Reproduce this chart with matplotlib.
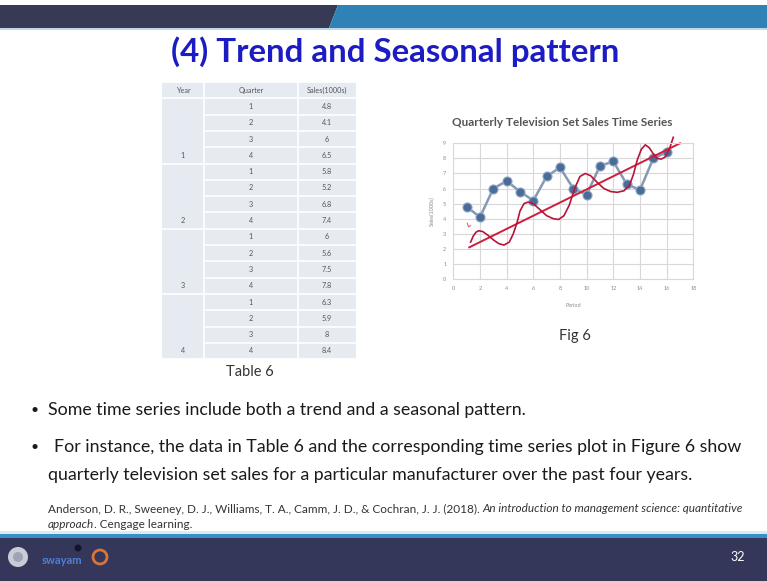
# Trend and seasonal pattern slide: table + time series chart
import matplotlib
matplotlib.use('Agg')
from matplotlib import pyplot as plt
from matplotlib.patches import Rectangle, Polygon, Circle

# data
year_labels = ['1', '2', '3', '4']
quarters = [1, 2, 3, 4, 1, 2, 3, 4, 1, 2, 3, 4, 1, 2, 3, 4]
periods = [1, 2, 3, 4, 5, 6, 7, 8, 9, 10, 11, 12, 13, 14, 15, 16]
sales = [4.8, 4.1, 6, 6.5, 5.8, 5.2, 6.8, 7.4, 6, 5.6, 7.5, 7.8, 6.3, 5.9, 8, 8.4]

# red hand drawn marks on the chart
trend_x = [1.2, 17.0]
trend_y = [2.1, 9.0]
wave_x = [1.3, 1.5, 1.7, 1.9, 2.2, 2.6, 3.0, 3.4, 3.8, 4.2, 4.5, 4.8, 5.0, 5.3,
          5.6, 6.0, 6.5, 7.0, 7.5, 7.9, 8.3, 8.7, 9.1, 9.5, 9.9, 10.3, 10.8,
          11.3, 11.8, 12.3, 12.8, 13.2, 13.5, 13.8, 14.1, 14.4, 14.7, 15.0,
          15.3, 15.6, 15.9, 16.2, 16.5]
wave_y = [2.45, 2.85, 3.1, 3.2, 3.15, 2.9, 2.6, 2.35, 2.25, 2.45, 3.0, 3.8, 4.5, 5.0,
          5.1, 5.0, 4.6, 4.2, 4.0, 3.95, 4.2, 4.9, 6.0, 6.8, 7.0, 6.85, 6.4,
          6.0, 5.8, 5.75, 5.85, 6.2, 6.9, 7.9, 8.6, 8.9, 8.7, 8.3,
          8.0, 7.95, 8.1, 8.6, 9.4]
hook_x = [1.05, 1.15, 1.3]
hook_y = [3.7, 3.45, 3.55]

x_ticks = [0, 2, 4, 6, 8, 10, 12, 14, 16, 18]
y_ticks = [0, 1, 2, 3, 4, 5, 6, 7, 8, 9]

font = ['Lato', 'DejaVu Sans']
plt.rcParams['font.family'] = font

W, H = 767, 581
fig = plt.figure(figsize=(W / 100, H / 100), dpi=100)
fig.patch.set_facecolor('white')
renderer = fig.canvas.get_renderer()


def fit(t, target):
    # scale a text so it covers the same width as in the slide
    w = t.get_window_extent(renderer).width
    t.set_fontsize(t.get_fontsize() * target / w)


bg = fig.add_axes([0, 0, 1, 1])
bg.set_xlim(0, W)
bg.set_ylim(H, 0)
bg.axis('off')

# top bar
bg.add_patch(Polygon([[0, 5], [338, 5], [329, 28], [0, 28]], closed=True, color='#363a55', lw=0))
bg.add_patch(Polygon([[338, 5], [W, 5], [W, 28], [329, 28]], closed=True, color='#2f82b6', lw=0))
bg.add_patch(Rectangle((0, 28), W, 2, color='#bcd9ea', lw=0))

t = bg.text(395, 52, '(4) Trend and Seasonal pattern', ha='center', va='center',
            fontsize=24, fontweight='bold', color='#1c1cc4')
fit(t, 450)

# table
tx0, tx1, tx2, tx3 = 162, 204, 298, 356
ty0 = 82
row_h = 16.3
n = len(sales)
tb = ty0 + row_h * (n + 1)
bg.add_patch(Rectangle((tx0, ty0), tx3 - tx0, tb - ty0, color='#e6eaf1', lw=0))
for i in range(n + 2):
    y = ty0 + row_h * i
    if i in (0, 1, n + 1) or (i - 1) % 4 == 0:
        bg.plot([tx0, tx3], [y, y], color='white', lw=1.2)
    else:
        bg.plot([tx1, tx3], [y, y], color='white', lw=1.2)
for x in (tx1, tx2):
    bg.plot([x, x], [ty0, tb], color='white', lw=1.2)

tfs = 5.2
tcol = '#555555'
bg.text((tx0 + tx1) / 2, ty0 + row_h / 2, 'Year', ha='center', va='center', fontsize=tfs, color=tcol)
bg.text((tx1 + tx2) / 2, ty0 + row_h / 2, 'Quarter', ha='center', va='center', fontsize=tfs, color=tcol)
bg.text((tx2 + tx3) / 2, ty0 + row_h / 2, 'Sales(1000s)', ha='center', va='center', fontsize=tfs, color=tcol)
for i in range(n):
    yc = ty0 + row_h * (i + 1.5)
    bg.text((tx1 + tx2) / 2, yc, str(quarters[i]), ha='center', va='center', fontsize=tfs, color=tcol)
    bg.text((tx2 + tx3) / 2, yc, '%g' % sales[i], ha='center', va='center', fontsize=tfs, color=tcol)
for j, lab in enumerate(year_labels):
    yc = ty0 + row_h * (4 * j + 4.5)
    bg.text((tx0 + tx1) / 2, yc, lab, ha='center', va='center', fontsize=tfs, color=tcol)

bg.text(250, 372, 'Table 6', ha='center', va='center', fontsize=10.5, color='#333333')

# chart
ax = fig.add_axes([453.3 / W, 1 - 279 / H, 240 / W, 135.7 / H])
ax.set_xlim(0, 18)
ax.set_ylim(0, 9)
ax.set_xticks(x_ticks)
ax.set_yticks(y_ticks)
ax.grid(True, color='#d8d8d8', lw=0.8)
ax.set_axisbelow(True)
for s in ax.spines.values():
    s.set_color('#d8d8d8')
    s.set_linewidth(0.8)
ax.tick_params(length=0, labelsize=4, labelcolor='#8a8a8a', pad=5)
ax.set_xlabel('Period', fontsize=4, color='#8a8a8a', labelpad=9)
ax.set_ylabel('Sales(1000s)', fontsize=4, color='#8a8a8a', labelpad=6)
ct = bg.text(562, 123, 'Quarterly Television Set Sales Time Series', ha='center', va='center',
             fontsize=9, color='#555555', fontweight='bold')
fit(ct, 220)

ax.plot(periods, sales, color='#8599b4', lw=1.8, marker='o', markersize=6.5,
        markerfacecolor='#4c6c98', markeredgecolor='#8fa6c4', markeredgewidth=0.8)
ax.plot(trend_x, trend_y, color='#cf1d3c', lw=1.4, clip_on=False)
ax.plot(wave_x, wave_y, color='#b8143a', lw=1.2, clip_on=False)
ax.plot(hook_x, hook_y, color='#d46a7a', lw=0.8)

bg.text(575, 336, 'Fig 6', ha='center', va='center', fontsize=10.5, color='#333333')

# bullet text
bcol = '#1a1a1a'
b1 = bg.text(48, 410, 'Some time series include both a trend and a seasonal pattern.',
             ha='left', va='center', fontsize=13, color=bcol)
b2 = bg.text(54, 447, 'For instance, the data in Table 6 and the corresponding time series plot in Figure 6 show',
             ha='left', va='center', fontsize=13, color=bcol)
b3 = bg.text(48, 475, 'quarterly television set sales for a particular manufacturer over the past four years.',
             ha='left', va='center', fontsize=13, color=bcol)
fit(b2, 686)
b1.set_fontsize(b2.get_fontsize())
b3.set_fontsize(b2.get_fontsize())
bg.text(30, 410, '\u2022', ha='left', va='center', fontsize=10, color=bcol)
bg.text(30, 447, '\u2022', ha='left', va='center', fontsize=10, color=bcol)

# citation: plain part then italic part on the same line
c1 = bg.text(48, 509, 'Anderson, D. R., Sweeney, D. J., Williams, T. A., Camm, J. D., & Cochran, J. J. (2018). ',
             ha='left', va='center', fontsize=8, color='#333333')
c2 = bg.text(0, 509, 'An introduction to management science: quantitative',
             ha='left', va='center', fontsize=8, color='#333333', style='italic')
w1 = c1.get_window_extent(renderer).width
w2 = c2.get_window_extent(renderer).width
cfs = 8 * 692 / (w1 + w2)
c1.set_fontsize(cfs)
c2.set_fontsize(cfs)
c2.set_x(48 + c1.get_window_extent(renderer).width)
c3 = bg.text(48, 525, 'approach', ha='left', va='center', fontsize=cfs, color='#333333', style='italic')
bg.text(48 + c3.get_window_extent(renderer).width, 525, '. Cengage learning.', ha='left', va='center',
        fontsize=cfs, color='#333333')

# bottom bar
bg.add_patch(Rectangle((0, 531), W, 4, color='#d8ecf7', lw=0))
bg.add_patch(Rectangle((0, 534), W, 4, color='#3c8ec6', lw=0))
bg.add_patch(Rectangle((0, 538), W, H - 538, color='#34375a', lw=0))
bg.add_patch(Circle((18, 557), 10, color='#c9ccd6', lw=0))
bg.add_patch(Circle((18, 557), 5, color='#9fa4b4', lw=0))
bg.add_patch(Circle((78, 548), 3.5, color='#15152a', lw=0))
bg.text(62, 561, 'swayam', ha='center', va='center', fontsize=8, color='#4e7fd8', fontweight='bold')
bg.add_patch(Circle((100, 557), 7, fill=False, ec='#d8743c', lw=2))
bg.text(738, 557, '32', ha='center', va='center', fontsize=9, color='white')

fig.savefig('out.png', dpi=100)
